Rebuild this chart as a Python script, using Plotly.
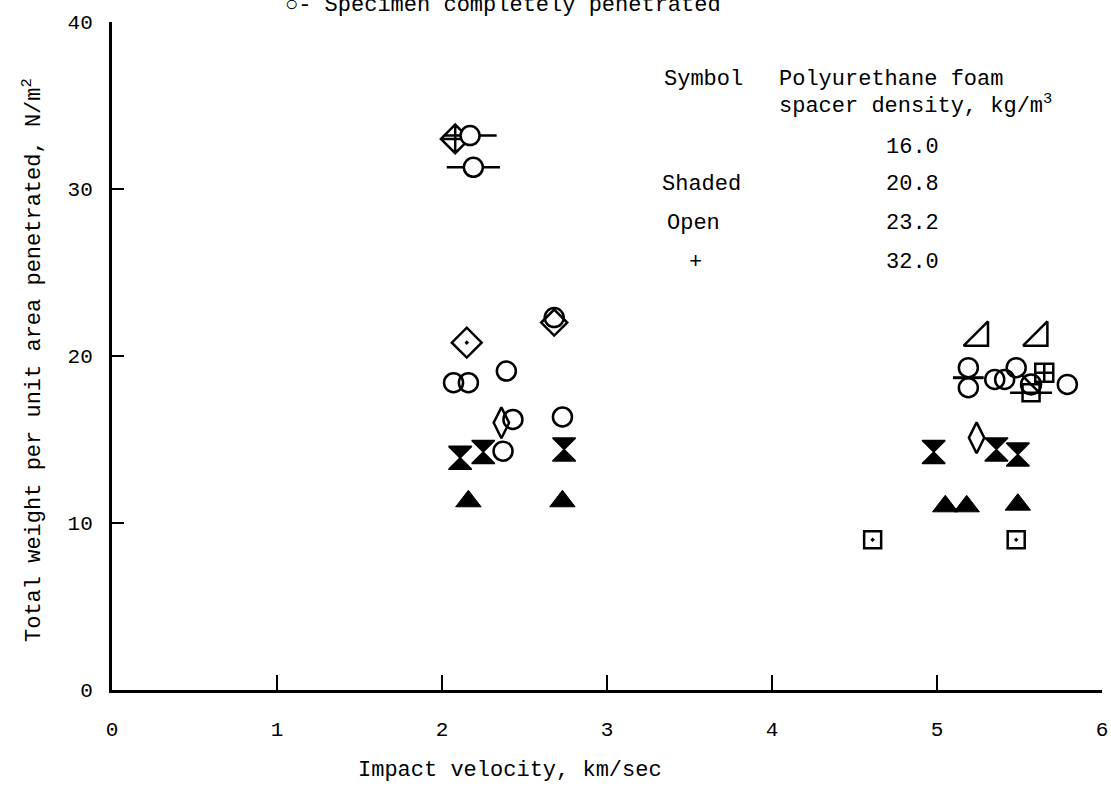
import plotly.graph_objects as go

# ---- data (velocity km/sec, weight N/m^2) ----
open_circle_x = [2.07, 2.16, 2.39, 2.43, 2.73, 2.37, 2.68, 5.19, 5.19, 5.35, 5.41, 5.48, 5.79]
open_circle_y = [18.4, 18.4, 19.1, 16.2, 16.35, 14.3, 22.3, 19.3, 18.1, 18.6, 18.6, 19.3, 18.3]

penetrated_circle_x = [2.17, 2.19]
penetrated_circle_y = [33.2, 31.3]
penetrated_stack_x = [5.19]
penetrated_stack_y = [18.7]

open_diamond_x = [2.68]
open_diamond_y = [22.0]

tall_diamond_x = [2.36, 5.24]
tall_diamond_y = [16.0, 15.1]

dot_diamond_x = [2.15]
dot_diamond_y = [20.8]

cross_diamond_x = [2.08]
cross_diamond_y = [33.0]

hourglass_x = [2.11, 2.25, 2.74, 4.98, 5.36, 5.49]
hourglass_y = [13.9, 14.25, 14.4, 14.25, 14.4, 14.1]

filled_triangle_x = [2.16, 2.73, 5.05, 5.18, 5.49]
filled_triangle_y = [11.3, 11.3, 11.0, 11.0, 11.1]

right_triangle_x = [5.26, 5.62]
right_triangle_y = [21.1, 21.1]

dot_square_x = [4.61, 5.48]
dot_square_y = [9.0, 9.0]

cross_square_x = [5.65]
cross_square_y = [19.0]

slash_circle_x = [5.57]
slash_circle_y = [18.3]
plain_square_x = [5.57]
plain_square_y = [17.8]

x_ticks = [0, 1, 2, 3, 4, 5, 6]
y_ticks = [0, 10, 20, 30, 40]

FONT = "Liberation Mono"
BLACK = "black"

fig = go.Figure()


def add(x, y, symbol, size, lw=2.5, color=BLACK):
    fig.add_trace(go.Scatter(
        x=x, y=y, mode="markers", cliponaxis=False, hoverinfo="skip",
        marker=dict(symbol=symbol, size=size, color=color,
                    line=dict(color=BLACK, width=lw)),
    ))


add(open_circle_x, open_circle_y, "circle-open", 19)
add(open_diamond_x, open_diamond_y, "diamond-open", 20)
add(tall_diamond_x, tall_diamond_y, "diamond-tall-open", 22)
add(dot_diamond_x, dot_diamond_y, "diamond-open-dot", 23)
add(cross_diamond_x, cross_diamond_y, "diamond-cross-open", 22)
add(hourglass_x, hourglass_y, "hourglass", 23, lw=1.5)
add(filled_triangle_x, filled_triangle_y, "triangle-up", 22, lw=1)
add(right_triangle_x, right_triangle_y, "triangle-se-open", 27)
add(dot_square_x, dot_square_y, "square-open-dot", 17)
add(cross_square_x, cross_square_y, "square-cross-open", 18)
add(plain_square_x, plain_square_y, "square-open", 17)
add(plain_square_x, plain_square_y, "line-ew-open", 30)
# penetrated specimens: circle with a horizontal flag
add(penetrated_circle_x, penetrated_circle_y, "line-ew-open", 38)
add(penetrated_circle_x, penetrated_circle_y, "circle", 19, color="white")
add(penetrated_stack_x, penetrated_stack_y, "line-ew-open", 22, lw=3)
add(slash_circle_x, slash_circle_y, "circle-open", 20)
add(slash_circle_x, slash_circle_y, "line-nw-open", 20)

# ---- layout ----
L, R, T, B = 112, 1102, 22, 690
W, H = 1111, 787


def px(x):
    return (x - L) / (R - L)


def py(y):
    return (B - y) / (B - T)


annotations = []


def text(s, x, y, anchor="left", size=22):
    annotations.append(dict(text=s, x=px(x), y=py(y), xref="paper", yref="paper",
                            xanchor=anchor, yanchor="middle", showarrow=False,
                            font=dict(family=FONT, size=size, color=BLACK)))


text("○- Specimen completely penetrated", 283, 5)
text("Symbol", 662, 80)
text("Polyurethane foam", 777, 80)
text("spacer density, kg/m<sup>3</sup>", 777, 104)
text("16.0", 884, 147)
text("Shaded", 660, 185)
text("20.8", 884, 185)
text("Open", 665, 223)
text("23.2", 884, 223)
text("+", 695, 262, "center")
text("32.0", 884, 262)
text("Impact velocity, km/sec", 510, 770, "center")
annotations.append(dict(text="Total weight per unit area penetrated, N/m<sup>2</sup>",
                        x=px(33), y=py(360), xref="paper", yref="paper",
                        xanchor="center", yanchor="middle", textangle=-90,
                        showarrow=False, font=dict(family=FONT, size=22, color=BLACK)))

fig.update_layout(
    width=W, height=H,
    margin=dict(l=L, r=W - R, t=T, b=H - B, autoexpand=False),
    plot_bgcolor="white", paper_bgcolor="white",
    showlegend=False,
    font=dict(family=FONT, size=21, color=BLACK),
    annotations=annotations,
)
fig.update_xaxes(range=[0, 6], tickvals=x_ticks, ticktext=[str(v) for v in x_ticks],
                 showline=True, linewidth=3, linecolor=BLACK, ticks="inside",
                 ticklen=15, tickwidth=2, tickcolor=BLACK, showgrid=False,
                 zeroline=False, ticklabelstandoff=18, ticklabeloverflow="allow",
                 tickfont=dict(family=FONT, size=21))
fig.update_yaxes(range=[0, 40], tickvals=y_ticks, ticktext=[str(v) for v in y_ticks],
                 showline=True, linewidth=3, linecolor=BLACK, ticks="inside",
                 ticklen=12, tickwidth=2, tickcolor=BLACK, showgrid=False,
                 zeroline=False, ticklabelstandoff=12, ticklabeloverflow="allow",
                 tickfont=dict(family=FONT, size=21))

fig.write_html("out.html", config={"displayModeBar": False},
               post_script="document.body.style.margin='0';document.body.style.padding='0';")
